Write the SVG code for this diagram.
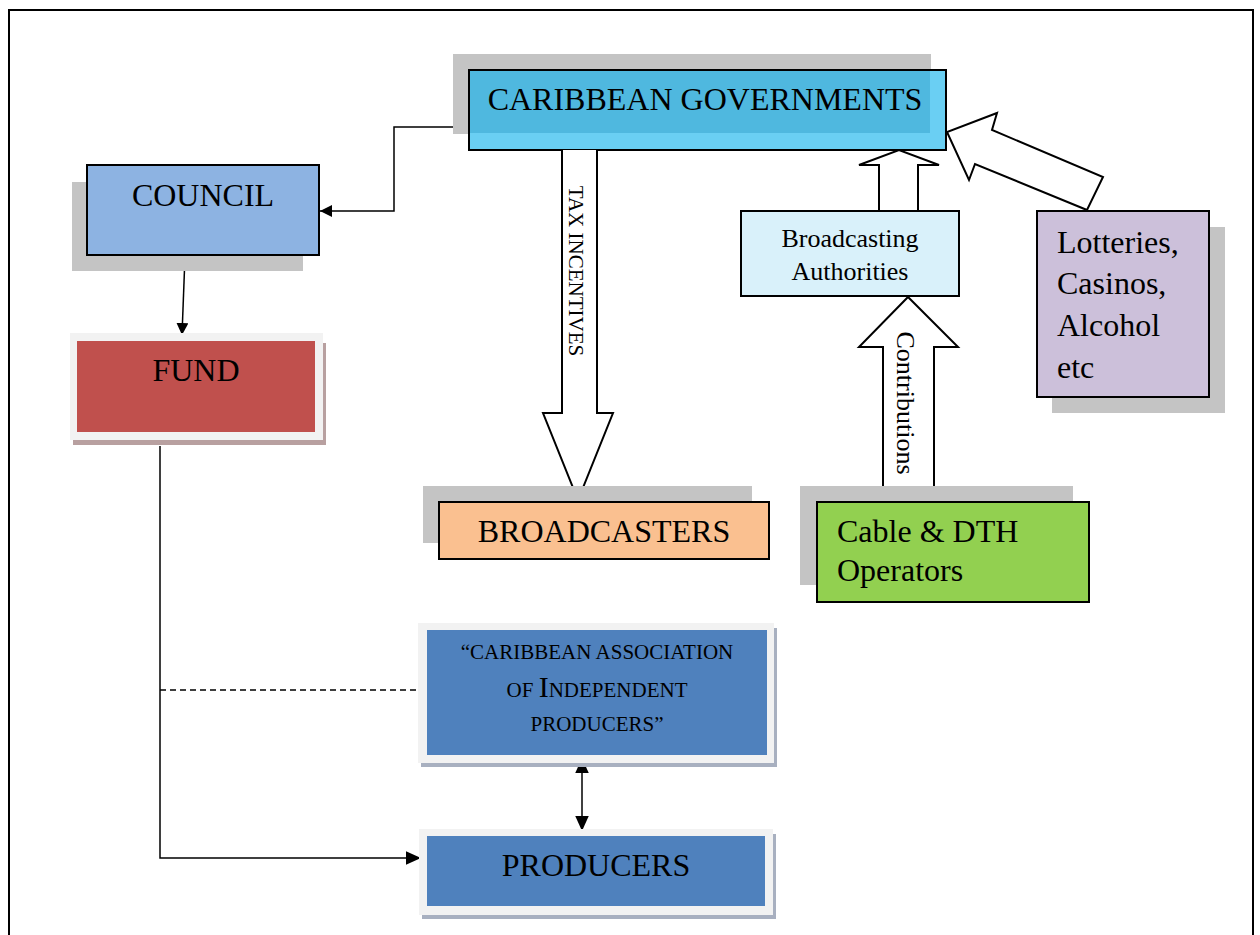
<svg xmlns="http://www.w3.org/2000/svg" width="1260" height="935" viewBox="0 0 1260 935">
<defs>
<style>
text{font-family:"Liberation Serif","Times New Roman",serif;fill:#000}
.box{stroke:#000;stroke-width:2}
.shadow{fill:#c4c4c4}
.conn{fill:none;stroke:#000;stroke-width:1.5}
.blk{fill:#fff;stroke:#000;stroke-width:2;stroke-linejoin:miter}
.t32{font-size:32px}
.t26{font-size:26px}
.sc{font-size:21px}
</style>
<marker id="ah" viewBox="0 0 10 10" refX="10" refY="5" markerWidth="12" markerHeight="12" markerUnits="userSpaceOnUse" orient="auto-start-reverse">
<path d="M0,0 L10,5 L0,10 z" fill="#000"/>
</marker>
<marker id="ahL" viewBox="0 0 10 10" refX="10" refY="5" markerWidth="15" markerHeight="15" markerUnits="userSpaceOnUse" orient="auto-start-reverse">
<path d="M0,0.5 L10,5 L0,9.5 z" fill="#000"/>
</marker>
</defs>
<rect width="1260" height="935" fill="#fff"/>
<path d="M9,940 L9,10 L1253,10 L1253,940" fill="none" stroke="#000" stroke-width="2"/>

<g id="connectors">
<path class="conn" d="M469,127 L394,127 L394,211 L320,211" marker-end="url(#ah)"/>
<path class="conn" d="M185,256 L182,335" marker-end="url(#ah)"/>
<path class="conn" d="M160,446 L160,858 L421,858" marker-end="url(#ahL)"/>
<path class="conn" d="M160,690 L418,690" stroke-dasharray="6,4"/>
<path class="conn" d="M582,758 L582,831" stroke-width="2" marker-start="url(#ahL)" marker-end="url(#ahL)"/>
</g>

<g id="caribbean-governments">
<rect class="shadow" x="453" y="54" width="478" height="80"/>
<rect x="469" y="70" width="477" height="80" fill="#4FB8DF"/>
<rect x="469" y="133" width="477" height="17" fill="#6ACFF3"/>
<rect x="930" y="70" width="16" height="80" fill="#6ACFF3"/>
<rect class="box" x="469" y="70" width="477" height="80" fill="none"/>
<text class="t32" x="705" y="110" text-anchor="middle">CARIBBEAN GOVERNMENTS</text>
</g>

<g id="council">
<rect class="shadow" x="72" y="182" width="231" height="89"/>
<rect class="box" x="87" y="165" width="232" height="90" fill="#8DB3E2"/>
<text class="t32" x="203" y="206" text-anchor="middle">COUNCIL</text>
</g>

<g id="fund">
<rect x="73" y="343" width="253" height="102" fill="#B8A0A0"/>
<rect x="70" y="333" width="253" height="107" fill="#F2F2F2"/>
<rect x="77" y="341" width="238" height="91" fill="#C0504D"/>
<text class="t32" x="196" y="381" text-anchor="middle">FUND</text>
</g>

<g id="tax-incentives-arrow">
<path class="blk" d="M562,150 L562,413 L543,413 L578,500 L613,413 L597,413 L597,150"/>
<text x="0" y="0" font-size="21" text-anchor="middle" transform="translate(569,271) rotate(90)">TAX  INCENTIVES</text>
</g>

<g id="broadcasters">
<rect class="shadow" x="423" y="486" width="329" height="57"/>
<rect class="box" x="439" y="502" width="330" height="57" fill="#FAC090"/>
<text class="t32" x="604" y="542" text-anchor="middle">BROADCASTERS</text>
</g>

<g id="authorities-arrow">
<path class="blk" d="M879,211 L879,165 L859,165 L899,150 L939,165 L918,165 L918,211"/>
</g>

<g id="broadcasting-authorities">
<rect class="box" x="741" y="211" width="218" height="85" fill="#D9F1FA"/>
<text class="t26" x="850" y="247" text-anchor="middle">Broadcasting</text>
<text class="t26" x="850" y="280" text-anchor="middle">Authorities</text>
</g>

<g id="contributions-arrow">
<path class="blk" d="M883,502 L883,347 L859,347 L908,297 L958,347 L934,347 L934,502"/>
<text class="t26" x="0" y="0" text-anchor="middle" transform="translate(897,403) rotate(90)">Contributions</text>
</g>

<g id="lotteries-arrow">
<path class="blk" d="M1087,210 L975,164 L969,180 L947,132 L997,113 L992,130 L1103,177 Z"/>
</g>

<g id="lotteries">
<rect class="shadow" x="1052" y="227" width="173" height="186"/>
<rect class="box" x="1037" y="211" width="172" height="186" fill="#CCC0DA"/>
<text class="t32" x="1057" y="253">Lotteries,</text>
<text class="t32" x="1057" y="294">Casinos,</text>
<text class="t32" x="1057" y="336">Alcohol</text>
<text class="t32" x="1057" y="378">etc</text>
</g>

<g id="cable-dth">
<rect class="shadow" x="800" y="486" width="273" height="99"/>
<rect class="box" x="817" y="502" width="272" height="100" fill="#92D050"/>
<text class="t32" x="837" y="542">Cable &amp; DTH</text>
<text class="t32" x="837" y="581">Operators</text>
</g>

<g id="association">
<rect x="421" y="628" width="356" height="139" fill="#A8B0C0"/>
<rect x="418" y="623" width="356" height="140" fill="#F2F2F2"/>
<rect x="427" y="630" width="340" height="125" fill="#4F81BD"/>
<text class="sc" x="597" y="659" text-anchor="middle">“CARIBBEAN ASSOCIATION</text>
<text class="sc" x="597" y="697" text-anchor="middle">OF <tspan font-size="30">I</tspan>NDEPENDENT</text>
<text class="sc" x="597" y="731" text-anchor="middle">PRODUCERS”</text>
</g>

<g id="producers">
<rect x="422" y="834" width="354" height="85" fill="#A8B0C0"/>
<rect x="419" y="829" width="354" height="86" fill="#F2F2F2"/>
<rect x="427" y="836" width="338" height="70" fill="#4F81BD"/>
<text class="t32" x="596" y="876" text-anchor="middle">PRODUCERS</text>
</g>
</svg>
